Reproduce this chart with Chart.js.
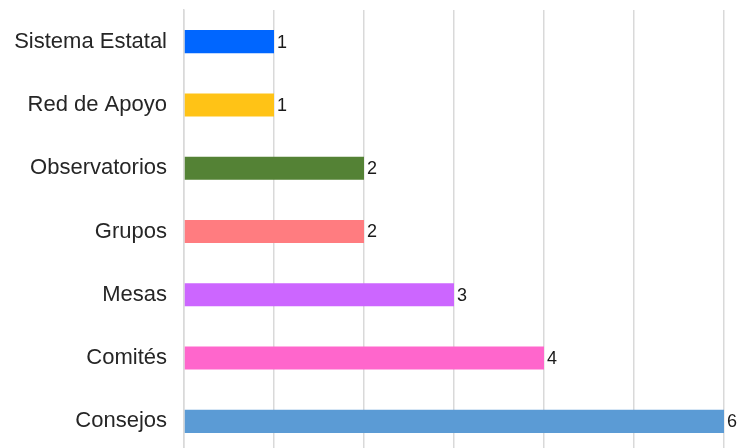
<!DOCTYPE html>
<html>
<head>
<meta charset="utf-8">
<script src="https://cdn.jsdelivr.net/npm/chart.js@4/dist/chart.umd.min.js"></script>
<style>
html,body{margin:0;padding:0;background:#fff;overflow:hidden;width:737px;height:448px;}
canvas{display:block;}
</style>
</head>
<body>
<canvas id="c" width="737" height="456"></canvas>
<script>
const categories = ["Sistema Estatal","Red de Apoyo","Observatorios","Grupos","Mesas","Comités","Consejos"];
const values = [1,1,2,2,3,4,6];
const barColors = ["#0066FF","#FFC316","#548235","#FF7C80","#CC66FF","#FF66CC","#5B9BD5"];
const xMax = 6;

const valueLabels = {
  id: 'valueLabels',
  afterDatasetsDraw(chart) {
    const ctx = chart.ctx;
    const meta = chart.getDatasetMeta(0);
    ctx.save();
    ctx.font = '18px "Liberation Sans", Arial, sans-serif';
    ctx.fillStyle = '#1a1a1a';
    ctx.textAlign = 'left';
    ctx.textBaseline = 'middle';
    meta.data.forEach((bar, i) => {
      ctx.fillText(String(values[i]), bar.x + 3, bar.y + 1);
    });
    ctx.restore();
  }
};

new Chart(document.getElementById('c'), {
  type: 'bar',
  data: {
    labels: categories,
    datasets: [{
      data: values,
      backgroundColor: barColors,
      borderWidth: 0,
      categoryPercentage: 1,
      barPercentage: 0.365
    }]
  },
  options: {
    indexAxis: 'y',
    responsive: false,
    animation: false,
    devicePixelRatio: 1,
    layout: { padding: { top: 10, right: 13, bottom: 3, left: 0 } },
    plugins: { legend: { display: false }, tooltip: { enabled: false } },
    scales: {
      x: {
        min: 0, max: xMax,
        afterFit(scale) { scale.height = 0; scale.paddingLeft = 0; scale.paddingRight = 0; },
        ticks: { display: false, stepSize: 1 },
        grid: { color: '#d9d9d9', lineWidth: 1.5, drawTicks: false },
        border: { display: false }
      },
      y: {
        afterFit(scale) { scale.width = 184; scale.paddingTop = 0; scale.paddingBottom = 0; },
        ticks: {
          color: '#262626',
          padding: 17,
          font: { family: '"Liberation Sans", Arial, sans-serif', size: 22 }
        },
        grid: { display: false, drawTicks: false },
        border: { display: true, color: '#d9d9d9', width: 1.5 }
      }
    }
  },
  plugins: [valueLabels]
});
</script>
</body>
</html>
